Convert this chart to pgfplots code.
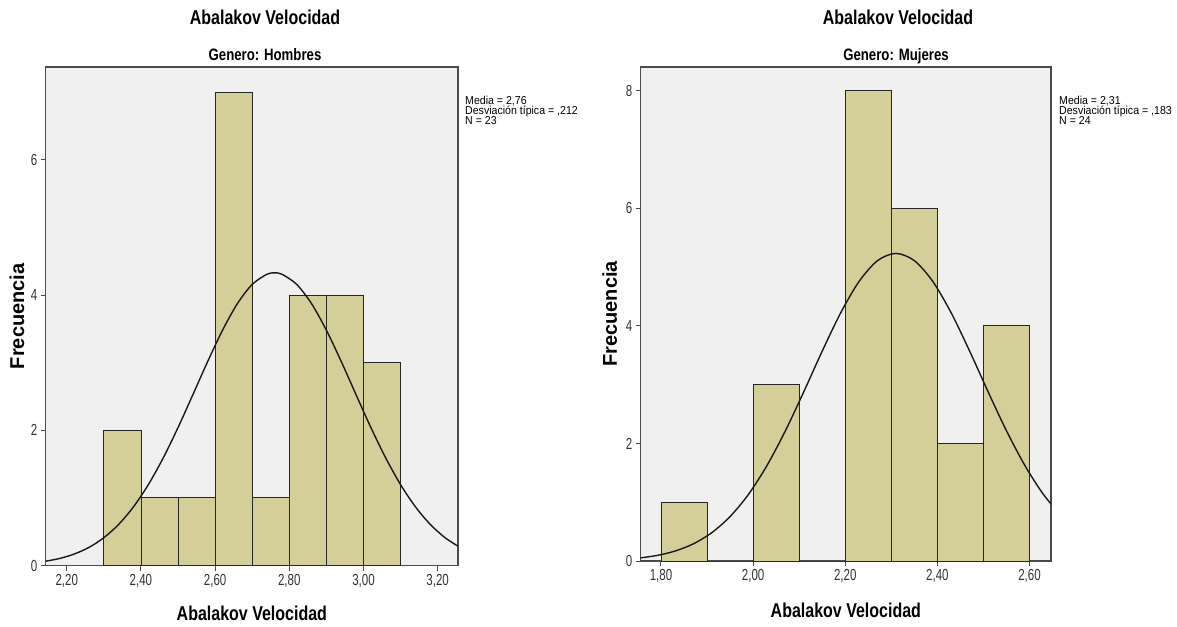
\documentclass[border=0pt]{standalone}
\usepackage{fontspec}
\setmainfont{Liberation Sans}
\newfontfamily\narrow[FakeStretch=0.8]{Liberation Sans}
\newfontfamily\tickfont[FakeStretch=0.72]{Liberation Sans}
\newfontfamily\statfont[FakeStretch=0.92]{Liberation Sans}
\usepackage{pgfplots}
\pgfplotsset{compat=1.18}
\definecolor{barfill}{RGB}{212,207,153}
\definecolor{bg}{RGB}{240,240,240}
\definecolor{frame}{RGB}{75,75,75}
\pgfplotsset{spss/.style={
  scale only axis,
  axis background/.style={fill=bg},
  axis line style={draw=frame, line width=1.2pt},
  tick align=outside, xtick pos=bottom, ytick pos=left,
  major tick length=5pt,
  tick style={draw=frame, line width=1pt},
  ymin=0,
  ticklabel style={font=\tickfont\fontsize{16}{18}\selectfont, text=black!80},
  /pgf/number format/assume math mode=true,
  x tick label style={/pgf/number format/.cd, fixed, fixed zerofill, precision=2, use comma, /tikz/.cd},
  y tick label style={/pgf/number format/.cd, fixed, precision=0, /tikz/.cd},
  xlabel style={font=\narrow\bfseries\fontsize{20}{24}\selectfont, at={(axis description cs:0.5,0)}, anchor=base},
  ylabel style={font=\bfseries\fontsize{20}{24}\selectfont, anchor=base},
  xlabel={Abalakov Velocidad},
  ylabel={Frecuencia},
}}
\begin{document}
\begin{tikzpicture}
\path[use as bounding box] (0,0) rectangle (1177pt,626pt);
% ---------------- Left: Hombres
\begin{axis}[spss, at={(45.7pt,60.5pt)}, anchor=south west,
  width=412.3pt, height=498.5pt,
  xmin=2.1433, xmax=3.2548, ymax=7.374,
  xtick={2.2,2.4,2.6,2.8,3.0,3.2}, ytick={0,2,4,6},
  xlabel style={yshift=-54.5pt},
  ylabel style={at={(axis description cs:-0.0526,0.5)}}]
\addplot[ybar interval, fill=barfill, draw=black!85, line width=0.8pt]
  coordinates {(2.3,2)(2.4,1)(2.5,1)(2.6,7)(2.7,1)(2.8,4)(2.9,4)(3.0,3)(3.1,3)};
\addplot[smooth, black!90, line width=1.4pt] coordinates {
(2.14,0.060)(2.18,0.103)(2.22,0.169)(2.26,0.268)(2.30,0.411)(2.34,0.608)(2.38,0.868)
(2.42,1.196)(2.46,1.590)(2.50,2.040)(2.54,2.526)(2.58,3.018)(2.62,3.480)(2.66,3.873)
(2.70,4.158)(2.74,4.309)(2.76,4.328)(2.78,4.309)(2.82,4.158)(2.86,3.873)(2.90,3.480)
(2.94,3.018)(2.98,2.526)(3.02,2.040)(3.06,1.590)(3.10,1.196)(3.14,0.868)(3.18,0.608)
(3.22,0.411)(3.26,0.268)};
\end{axis}
% ---------------- Right: Mujeres
\begin{axis}[spss, at={(640.7pt,65pt)}, anchor=south west,
  width=410.3pt, height=494pt,
  xmin=1.756, xmax=2.6466, ymax=8.403,
  xtick={1.8,2.0,2.2,2.4,2.6}, ytick={0,2,4,6,8},
  xlabel style={yshift=-56pt},
  ylabel style={at={(axis description cs:-0.0578,0.5)}}]
\addplot[ybar interval, fill=barfill, draw=black!85, line width=0.8pt]
  coordinates {(1.8,1)(1.9,0)(2.0,3)(2.1,0)(2.2,8)(2.3,6)(2.4,2)(2.5,4)(2.6,4)};
\addplot[smooth, black!90, line width=1.4pt] coordinates {
(1.75,0.048)(1.79,0.092)(1.83,0.168)(1.87,0.291)(1.91,0.480)(1.95,0.756)(1.99,1.134)
(2.03,1.623)(2.07,2.214)(2.11,2.879)(2.15,3.570)(2.19,4.220)(2.23,4.755)(2.27,5.109)
(2.31,5.232)(2.35,5.109)(2.39,4.755)(2.43,4.220)(2.47,3.570)(2.51,2.879)(2.55,2.214)
(2.59,1.623)(2.63,1.134)(2.67,0.756)};
\end{axis}
% ---------------- Titles
\begin{scope}[every node/.style={inner sep=0pt}]
\node[anchor=base, font=\narrow\bfseries\fontsize{20}{24}\selectfont] at (265pt,601pt) {Abalakov Velocidad};
\node[anchor=base, font=\narrow\bfseries\fontsize{16.5}{20}\selectfont] at (265pt,565.5pt) {Genero: Hombres};
\node[anchor=base, font=\narrow\bfseries\fontsize{20}{24}\selectfont] at (898pt,601pt) {Abalakov Velocidad};
\node[anchor=base, font=\narrow\bfseries\fontsize{16.5}{20}\selectfont] at (896pt,565.5pt) {Genero: Mujeres};
% stats
\begin{scope}[every node/.append style={anchor=base west, font=\statfont\fontsize{11.5}{13}\selectfont}]
\node at (465pt,521pt) {Media = 2,76};
\node at (465pt,511pt) {Desviación típica = ,212};
\node at (465pt,501pt) {N = 23};
\node at (1059pt,521pt) {Media = 2,31};
\node at (1059pt,511pt) {Desviación típica = ,183};
\node at (1059pt,501pt) {N = 24};
\end{scope}
\end{scope}
\end{tikzpicture}
\end{document}
